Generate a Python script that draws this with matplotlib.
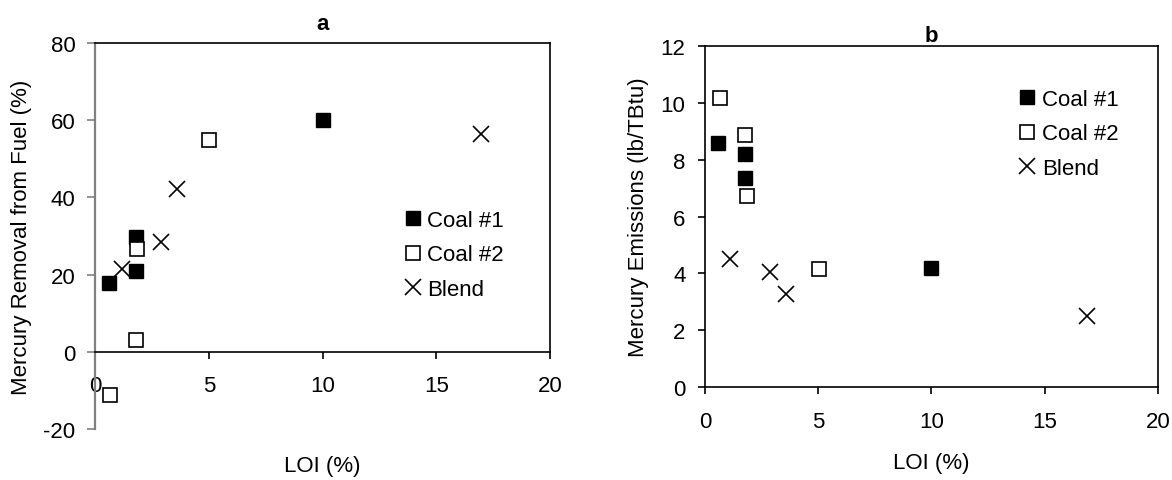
import matplotlib.pyplot as plt

plt.rcParams['font.family'] = ['Liberation Sans', 'DejaVu Sans']
plt.rcParams['axes.unicode_minus'] = False

'''data read off the figure'''
# panel a: mercury removal from fuel (%)
loi_coal1_a = [0.6, 1.8, 1.8, 10.0]
hg_removal_coal1 = [17.7, 29.8, 20.9, 60.1]
loi_coal2_a = [0.65, 1.78, 1.84, 5.0]
hg_removal_coal2 = [-11.2, 3.0, 26.6, 55.0]
loi_blend_a = [1.2, 2.9, 3.6, 16.95]
hg_removal_blend = [21.4, 28.5, 42.3, 56.5]

# panel b: mercury emissions (lb/TBtu)
loi_coal1_b = [0.56, 1.76, 1.76, 9.96]
hg_emis_coal1 = [8.59, 8.21, 7.35, 4.2]
loi_coal2_b = [0.66, 1.76, 1.84, 5.04]
hg_emis_coal2 = [10.18, 8.86, 6.71, 4.15]
loi_blend_b = [1.1, 2.87, 3.59, 16.88]
hg_emis_blend = [4.5, 4.05, 3.29, 2.5]

x_ticks = [0, 5, 10, 15, 20]
ya_ticks = [-20, 0, 20, 40, 60, 80]
yb_ticks = [0, 2, 4, 6, 8, 10, 12]

fs = 16
sq = 9.5
xs = 12


def draw_series(ax, c1, c2, bl):
    ax.plot(*c1, ls='none', marker='s', ms=sq, mfc='black', mec='black', label='Coal #1')
    ax.plot(*c2, ls='none', marker='s', ms=sq, mfc='white', mec='black', mew=1.2, label='Coal #2')
    ax.plot(*bl, ls='none', marker='x', ms=xs, mec='black', mew=1.2, label='Blend')


fig = plt.figure(figsize=(11.72, 4.81), dpi=100)

'''panel a'''
ax1 = fig.add_axes([0.0811, 0.106, 0.3882, 0.8025])
draw_series(ax1, (loi_coal1_a, hg_removal_coal1), (loi_coal2_a, hg_removal_coal2),
            (loi_blend_a, hg_removal_blend))
ax1.set_xlim(0, 20)
ax1.set_ylim(-20, 80)
ax1.set_xticks(x_ticks)
ax1.set_yticks(ya_ticks)
ax1.spines['bottom'].set_position(('data', 0))
ax1.spines['right'].set_bounds(0, 80)
ax1.spines['left'].set_color('#808080')
ax1.spines['left'].set_linewidth(1.6)
for s in ['top', 'right', 'bottom']:
    ax1.spines[s].set_linewidth(1.2)
ax1.tick_params(axis='y', direction='out', length=6, width=1.2, color='#808080', pad=8, labelsize=fs)
ax1.tick_params(axis='x', direction='out', length=5, width=1.2, pad=12, labelsize=fs)
ax1.set_title('a', fontsize=fs, fontweight='bold', pad=10)
ax1.set_ylabel('Mercury Removal from Fuel (%)', fontsize=fs)
ax1.yaxis.set_label_coords(-0.138, 0.5)
ax1.set_xlabel('LOI (%)', fontsize=fs)
ax1.xaxis.set_label_coords(0.5, -0.068)
ax1.legend(loc='upper left', bbox_to_anchor=(0.652, 0.59), frameon=False, fontsize=fs,
           handletextpad=0.1, labelspacing=0.6, handlelength=1.1, borderaxespad=0)

'''panel b'''
ax2 = fig.add_axes([0.6015, 0.1933, 0.3865, 0.709])
draw_series(ax2, (loi_coal1_b, hg_emis_coal1), (loi_coal2_b, hg_emis_coal2),
            (loi_blend_b, hg_emis_blend))
ax2.set_xlim(0, 20)
ax2.set_ylim(0, 12)
ax2.set_xticks(x_ticks)
ax2.set_yticks(yb_ticks)
for s in ax2.spines.values():
    s.set_linewidth(1.2)
ax2.tick_params(direction='out', length=5, width=1.2, labelsize=fs)
ax2.tick_params(axis='x', pad=12)
ax2.tick_params(axis='y', pad=9)
ax2.set_title('b', fontsize=fs, fontweight='bold', pad=3)
ax2.set_ylabel('Mercury Emissions (lb/TBtu)', fontsize=fs)
ax2.yaxis.set_label_coords(-0.124, 0.5)
ax2.set_xlabel('LOI (%)', fontsize=fs)
ax2.xaxis.set_label_coords(0.5, -0.19)
ax2.legend(loc='upper left', bbox_to_anchor=(0.665, 0.9), frameon=False, fontsize=fs,
           handletextpad=0.1, labelspacing=0.6, handlelength=1.1, borderaxespad=0)

plt.savefig('out.png', dpi=100)
